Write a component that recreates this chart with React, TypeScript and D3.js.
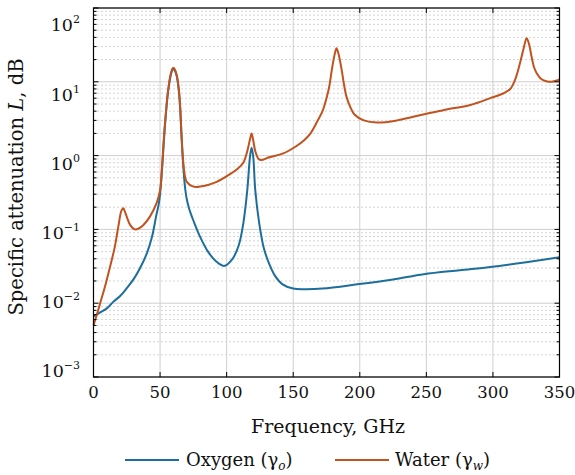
import React from 'react';
import * as d3 from 'd3';

// Oxygen specific attenuation (GHz, dB)
const freqO2 = [0, 5, 10, 15, 20, 25, 30, 35, 40, 44, 47, 49, 50, 51.5, 53.5, 56, 58, 59.2, 60, 60.8, 62.5, 64, 65, 66, 67, 68, 69, 70, 71.5, 73, 75, 80, 86, 92, 98, 104, 109, 112.5, 115.5, 117.5, 118.75, 120, 121.5, 124.5, 128, 132, 136, 142, 150, 158, 172, 198, 225, 248, 275, 298, 325, 350];
const gammaO2 = [0.0066, 0.0075, 0.0085, 0.0105, 0.0125, 0.016, 0.021, 0.03, 0.047, 0.08, 0.15, 0.22, 0.3, 0.65, 2.3, 7.3, 12.2, 14.5, 15.0, 14.5, 12.0, 7.8, 4.7, 2.0, 0.95, 0.52, 0.34, 0.26, 0.2, 0.165, 0.132, 0.08, 0.05, 0.037, 0.032, 0.039, 0.06, 0.12, 0.34, 0.95, 1.28, 0.95, 0.34, 0.12, 0.055, 0.034, 0.024, 0.018, 0.0158, 0.0155, 0.0158, 0.018, 0.021, 0.0247, 0.028, 0.031, 0.036, 0.042];

// Water vapour specific attenuation (GHz, dB)
const freqH2O = [0, 3, 5, 8.6, 12.4, 16, 18.6, 21, 22.4, 23.5, 25, 27.5, 31, 34, 37.5, 42.5, 47.5, 50, 51.5, 53.5, 56, 58, 59.2, 60, 60.8, 62.5, 64, 65, 66, 67, 68.5, 70, 75, 80, 86, 92.5, 102.5, 108, 112.5, 115.5, 117.5, 118.75, 120, 121.5, 124, 126, 132, 142.5, 152.5, 158, 163, 168, 172, 175, 177, 179, 181, 182.5, 184, 186.4, 188, 190, 193, 196, 203, 213, 228, 250, 265, 283, 298, 308, 313, 316.5, 320, 323, 325.3, 327, 329, 331, 333, 336, 340, 344, 348, 350];
const gammaH2O = [0.005, 0.0075, 0.01, 0.0167, 0.031, 0.058, 0.108, 0.18, 0.193, 0.175, 0.148, 0.115, 0.1, 0.103, 0.115, 0.15, 0.23, 0.34, 0.72, 2.5, 7.6, 12.8, 15.0, 15.5, 15.0, 12.4, 8.2, 4.9, 2.1, 1.0, 0.55, 0.44, 0.38, 0.38, 0.4, 0.44, 0.56, 0.66, 0.8, 1.15, 1.65, 2.0, 1.6, 1.15, 0.9, 0.87, 0.95, 1.07, 1.35, 1.6, 2.0, 2.9, 4.0, 6.0, 8.5, 14.5, 23, 28.5, 24, 14.5, 9.5, 6.3, 4.5, 3.6, 3.0, 2.8, 3.0, 3.7, 4.2, 4.85, 6.0, 7.0, 8.0, 10.5, 17, 28, 39, 33, 22, 15.5, 13, 11, 10.2, 10.0, 10.4, 10.8];

const xTicks = [0, 50, 100, 150, 200, 250, 300, 350];
const yDecades = [-3, -2, -1, 0, 1, 2];

const W = 575, H = 475;
const left = 93.5, right = 559.5, top = 8, bottom = 377;
const font = '"DejaVu Serif", serif';

export default function App() {
  const x = d3.scaleLinear().domain([0, 350]).range([left, right]);
  const y = d3.scaleLog().domain([1e-3, 1e2]).range([bottom, top]);
  // tick labels in the original sit on a slightly compressed ladder
  const yLab = d3.scaleLog().domain([1e-3, 1e2]).range([371, 25]);

  const minor: number[] = [];
  yDecades.slice(0, -1).forEach(d => {
    for (let k = 2; k <= 9; k++) minor.push(k * Math.pow(10, d));
  });

  const line = d3.line<[number, number]>()
    .x(d => x(d[0]))
    .y(d => y(d[1]))
    .curve(d3.curveCatmullRom.alpha(0.5));

  const o2 = line(freqO2.map((f, i) => [f, gammaO2[i]]));
  const h2o = line(freqH2O.map((f, i) => [f, gammaH2O[i]]));

  const blue = '#1e6e9b';
  const orange = '#c0531f';

  return (
    <svg width={W} height={H} style={{ position: 'absolute', left: 0, top: 0, background: '#fff' }}
      fontFamily={font}>
      <rect width={W} height={H} fill="#fff" />
      {/* minor grid */}
      {minor.map(v => (
        <line key={'m' + v} x1={left} x2={right} y1={y(v)} y2={y(v)}
          stroke="#aaa" strokeWidth={1} strokeDasharray="1,3" />
      ))}
      {/* major grid */}
      {yDecades.map(d => (
        <line key={'g' + d} x1={left} x2={right} y1={y(Math.pow(10, d))} y2={y(Math.pow(10, d))}
          stroke="#cfcfcf" strokeWidth={1} />
      ))}
      {xTicks.map(t => (
        <line key={'v' + t} x1={x(t)} x2={x(t)} y1={top} y2={bottom} stroke="#cfcfcf" strokeWidth={1} />
      ))}

      <g fill="none" strokeWidth={2} strokeLinejoin="round">
        <path d={o2 || ''} stroke={blue} />
        <path d={h2o || ''} stroke={orange} />
      </g>

      {/* frame and ticks */}
      <rect x={left} y={top} width={right - left} height={bottom - top} fill="none" stroke="#000" strokeWidth={1.2} />
      {xTicks.map(t => (
        <g key={'t' + t}>
          <line x1={x(t)} x2={x(t)} y1={bottom} y2={bottom - 5} stroke="#000" />
          <line x1={x(t)} x2={x(t)} y1={top} y2={top + 5} stroke="#000" />
        </g>
      ))}
      {yDecades.map(d => (
        <g key={'yt' + d}>
          <line x1={left} x2={left + 5} y1={y(Math.pow(10, d))} y2={y(Math.pow(10, d))} stroke="#000" />
          <line x1={right} x2={right - 5} y1={y(Math.pow(10, d))} y2={y(Math.pow(10, d))} stroke="#000" />
        </g>
      ))}
      {minor.map(v => (
        <g key={'mt' + v}>
          <line x1={left} x2={left + 3} y1={y(v)} y2={y(v)} stroke="#000" />
          <line x1={right} x2={right - 3} y1={y(v)} y2={y(v)} stroke="#000" />
        </g>
      ))}

      {/* tick labels */}
      {xTicks.map(t => (
        <text key={'xl' + t} x={x(t)} y={398} textAnchor="middle" fontSize={16.5} fill="#111">{t}</text>
      ))}
      {yDecades.map(d => (
        <text key={'yl' + d} x={80} y={yLab(Math.pow(10, d))} dy="0.36em" textAnchor="end" fontSize={17.5} fill="#111">
          10<tspan fontSize={11} dy={-8}>{d < 0 ? '\u2212' + Math.abs(d) : String(d)}</tspan>
        </text>
      ))}

      {/* axis titles */}
      <text x={328} y={433} textAnchor="middle" fontSize={19} fill="#111">Frequency, GHz</text>
      <text transform="translate(23,187) rotate(-90)" textAnchor="middle" fontSize={19.5} fill="#111">
        Specific attenuation <tspan fontStyle="italic">L</tspan>, dB
      </text>

      {/* legend */}
      <line x1={125} x2={179} y1={460} y2={460} stroke={blue} strokeWidth={2} />
      <text x={186} y={466} fontSize={18} fill="#111">
        Oxygen (γ<tspan fontStyle="italic" fontSize={12} dy={4}>o</tspan><tspan dy={-4}>)</tspan>
      </text>
      <line x1={335} x2={389} y1={460} y2={460} stroke={orange} strokeWidth={2} />
      <text x={395} y={466} fontSize={18} fill="#111">
        Water (γ<tspan fontStyle="italic" fontSize={12} dy={4}>w</tspan><tspan dy={-4}>)</tspan>
      </text>
    </svg>
  );
}
